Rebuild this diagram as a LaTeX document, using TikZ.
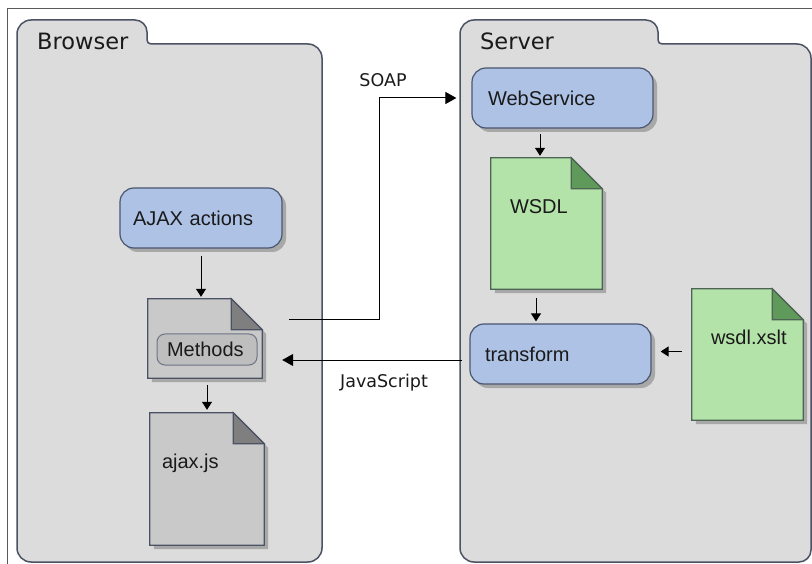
\documentclass[tikz,border=0pt]{standalone}
\usepackage{fontspec}
\setmainfont{Liberation Sans}
\newfontfamily\tagfont{DejaVu Sans}
\usetikzlibrary{arrows.meta,shadows,calc}

\definecolor{folderfill}{HTML}{DCDCDC}
\definecolor{folderedge}{HTML}{4B5263}
\definecolor{boxfill}{HTML}{ADC2E5}
\definecolor{boxedge}{HTML}{4B5670}
\definecolor{greenfill}{HTML}{B3E3A9}
\definecolor{greenfold}{HTML}{5F9A5A}
\definecolor{greenedge}{HTML}{4D6355}
\definecolor{grayfill}{HTML}{C9C9C9}
\definecolor{grayfold}{HTML}{7F7F7F}
\definecolor{innerfill}{HTML}{BEBEBE}
\definecolor{inneredge}{HTML}{6D7487}
\definecolor{shadowgray}{HTML}{A8A8A8}
\definecolor{framegray}{HTML}{5A5A5A}
\definecolor{inkcol}{HTML}{1A1A1A}

\tikzset{
  folder/.style={fill=folderfill, draw=folderedge, line width=1.5pt},
  folderlabel/.style={inner sep=0pt, text=inkcol, font=\tagfont\fontsize{22.5}{26}\selectfont},
  linklabel/.style={inner sep=0pt, text=inkcol, font=\tagfont\fontsize{17.5}{21}\selectfont},
  action/.style={rounded corners=14pt, draw=boxedge, fill=boxfill, line width=1.2pt,
    minimum height=60pt, align=left, inner ysep=0pt, text=inkcol,
    font=\fontsize{20}{24}\selectfont,
    drop shadow={shadow xshift=4pt, shadow yshift=-4pt, fill=shadowgray, opacity=1}},
  docnode/.style={rectangle, inner sep=0pt, draw=none},
  doctext/.style={inner sep=0pt, anchor=base west, text=inkcol, font=\fontsize{20}{24}\selectfont},
  innerbox/.style={rounded corners=8pt, draw=inneredge, fill=innerfill, line width=1pt,
    minimum width=100pt, minimum height=31pt, text width=80pt, inner xsep=10pt,
    inner ysep=0pt, align=left, text=inkcol, font=\fontsize{20}{24}\selectfont},
  arr/.style={-{Triangle[length=8pt,width=10pt]}, line width=1pt, draw=black},
  bigarr/.style={-{Triangle[length=11pt,width=12pt]}, line width=1pt, draw=black},
}

% folded-corner document: name, centre, width, height, body colour, fold colour, edge colour, text x offset, text
\newcommand\paperdoc[9]{%
  \node[docnode, minimum width=#3, minimum height=#4] (#1) at (#2) {};
  \fill[shadowgray] ([shift={(4pt,-4pt)}]#1.north west) -- ([shift={(-27pt,-4pt)}]#1.north east)
    -- ([shift={(4pt,-35pt)}]#1.north east) -- ([shift={(4pt,-4pt)}]#1.south east)
    -- ([shift={(4pt,-4pt)}]#1.south west) -- cycle;
  \filldraw[fill=#5, draw=#7, line width=1.2pt, line join=miter] (#1.north west)
    -- ([xshift=-31pt]#1.north east) -- ([yshift=-31pt]#1.north east)
    -- (#1.south east) -- (#1.south west) -- cycle;
  \filldraw[fill=#6, draw=#7, line width=1.2pt, line join=miter] ([xshift=-31pt]#1.north east)
    -- ([yshift=-31pt]#1.north east) -- ([shift={(-31pt,-31pt)}]#1.north east) -- cycle;
  \node[doctext] (#1-text) at ([shift={(#8,-56pt)}]#1.north west) {#9};
}

\begin{document}
\begin{tikzpicture}[x=1pt,y=-1pt]
\useasboundingbox (0,0) rectangle (812,564);
\fill[white] (0,0) rectangle (812,564);

% outer frame
\draw[framegray, line width=1pt] (812,9) -- (7,9) -- (7,564);

% Browser folder
\filldraw[folder] (17,34) .. controls (17,26.3) and (23.3,20) .. (31,20)
  -- (135,20) .. controls (141.6,20) and (147,25.4) .. (147,32)
  -- (147,40) .. controls (147,42.2) and (148.8,44) .. (151,44)
  -- (308,44) .. controls (315.7,44) and (322,50.3) .. (322,58)
  -- (322,548) .. controls (322,555.7) and (315.7,562) .. (308,562)
  -- (31,562) .. controls (23.3,562) and (17,555.7) .. (17,548) -- cycle;
\node[folderlabel, anchor=base west] (browserlabel) at (37,50) {Browser};

% Server folder
\filldraw[folder] (460,34) .. controls (460,26.3) and (466.3,20) .. (474,20)
  -- (646,20) .. controls (652.6,20) and (658,25.4) .. (658,32)
  -- (658,40) .. controls (658,42.2) and (659.8,44) .. (662,44)
  -- (797,44) .. controls (804.7,44) and (811,50.3) .. (811,58)
  -- (811,550) .. controls (811,556.6) and (805.6,562) .. (799,562)
  -- (474,562) .. controls (466.3,562) and (460,555.7) .. (460,548) -- cycle;
\node[folderlabel, anchor=base west] (serverlabel) at (480,50) {Server};

% browser side
\node[action, text width=136pt, inner xsep=13pt] (ajax) at (201,218) {AJAX actions};
\paperdoc{methods}{205,338.5}{114pt}{79pt}{grayfill}{grayfold}{folderedge}{12pt}{}
\node[innerbox] (methodsbox) at (207,349.5) {Methods};
\paperdoc{ajaxjs}{207,479}{114pt}{132pt}{grayfill}{grayfold}{folderedge}{12pt}{ajax.js}

% server side
\node[action, text width=149pt, inner xsep=16pt] (webservice) at (562.5,98) {WebService};
\paperdoc{wsdl}{546.5,223.5}{111pt}{131pt}{greenfill}{greenfold}{greenedge}{19pt}{WSDL}
\node[action, text width=151pt, inner xsep=15pt] (transform) at (560.5,354) {transform};
\paperdoc{wsdlxslt}{747.5,354.5}{111pt}{131pt}{greenfill}{greenfold}{greenedge}{19pt}{wsdl.xslt}

% connectors
\draw[arr, shorten <=7pt, shorten >=2pt] (ajax.south) -- (ajax.south |- methods.north);
\draw[arr, shorten <=7pt, shorten >=3pt] (ajaxjs.north |- methods.south) -- (ajaxjs.north);
\draw[arr, shorten <=5pt, shorten >=2pt] ([xshift=-6.5pt]wsdl.north |- webservice.south) -- ([xshift=-6.5pt]wsdl.north);
\draw[arr, shorten <=9pt, shorten >=2pt] ([xshift=-10.5pt]wsdl.south) -- ([xshift=-10.5pt]wsdl.south |- transform.north);
\draw[arr, shorten <=10pt, shorten >=9pt] ([yshift=2.5pt]transform.east -| wsdlxslt.west) -- ([yshift=2.5pt]transform.east);

\draw[bigarr, shorten >=15pt] ([shift={(27pt,18.5pt)}]methods.east) -- ++(90,0) |- (webservice.west);
\node[linklabel, anchor=base] (soap) at (383,87) {SOAP};

\draw[bigarr, shorten <=7pt, shorten >=20pt] ([yshift=-6pt]transform.west) -- ([yshift=-6pt]transform.west -| methods.east);
\node[linklabel, anchor=base] (javascript) at (384,388) {JavaScript};
\end{tikzpicture}
\end{document}
